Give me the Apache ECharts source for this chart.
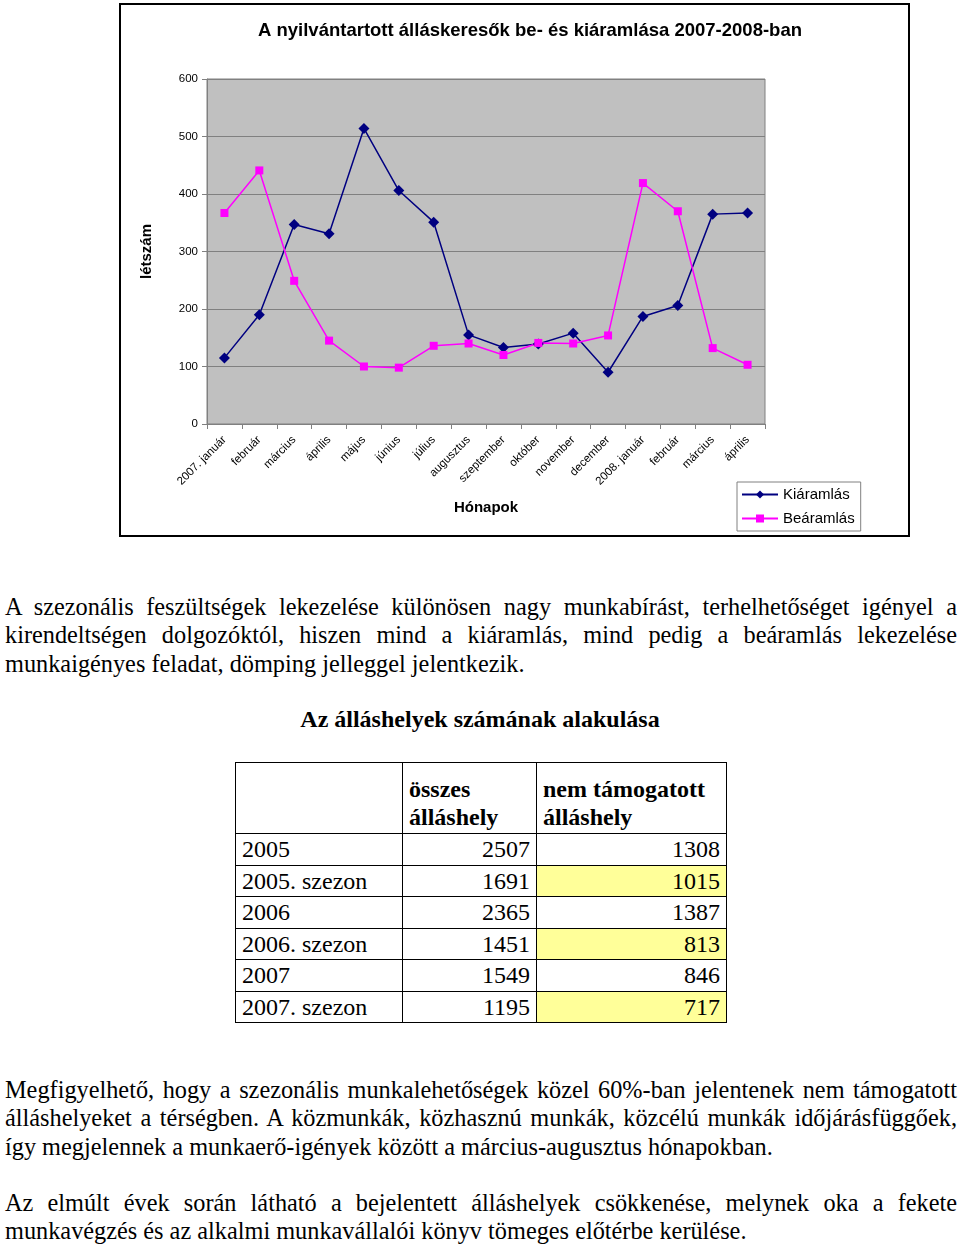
<!DOCTYPE html>
<html><head><meta charset="utf-8">
<script src="https://cdn.jsdelivr.net/npm/echarts@6/dist/echarts.min.js"></script>
<style>
body{margin:0;width:960px;height:1244px;background:#fff;position:relative;font-family:"Liberation Serif","Times New Roman",serif;}
#chart{position:absolute;left:119px;top:3px;width:787px;height:530px;border:2px solid #000;}
.p{position:absolute;left:5px;width:952px;font-size:24.3px;line-height:28.3px;color:#000;}
.p div{white-space:nowrap;text-align:justify;text-align-last:justify;}
.p div.last{text-align:left;text-align-last:left;}
#ttitle{position:absolute;left:0;width:960px;top:706px;text-align:center;font-weight:bold;font-size:24px;}
table{position:absolute;left:235px;top:762px;border-collapse:collapse;font-size:24px;}
td{border:1px solid #000;padding:0 6px;height:30.5px;line-height:26px;}
td.n{text-align:right;}
td.y{background:#ffff99;}
th{border:1px solid #000;font-weight:bold;text-align:left;vertical-align:bottom;padding:0 6px 2px 6px;height:68px;line-height:28px;}
</style></head><body>
<div id="chart"></div>
<div class="p" style="top:593px">
<div>A szezonális feszültségek lekezelése különösen nagy munkabírást, terhelhetőséget igényel a</div>
<div>kirendeltségen dolgozóktól, hiszen mind a kiáramlás, mind pedig a beáramlás lekezelése</div>
<div class="last">munkaigényes feladat, dömping jelleggel jelentkezik.</div>
</div>
<div id="ttitle">Az álláshelyek számának alakulása</div>
<table id="tbl"></table>
<div class="p" style="top:1076px">
<div>Megfigyelhető, hogy a szezonális munkalehetőségek közel 60%-ban jelentenek nem támogatott</div>
<div>álláshelyeket a térségben. A közmunkák, közhasznú munkák, közcélú munkák időjárásfüggőek,</div>
<div class="last">így megjelennek a munkaerő-igények között a március-augusztus hónapokban.</div>
</div>
<div class="p" style="top:1189px">
<div>Az elmúlt évek során látható a bejelentett álláshelyek csökkenése, melynek oka a fekete</div>
<div class="last">munkavégzés és az alkalmi munkavállalói könyv tömeges előtérbe kerülése.</div>
</div>
<script>
const months = ["2007. január","február","március","április","május","június","július","augusztus","szeptember","október","november","december","2008. január","február","március","április"];
const kiaramlas = [115,190,347,331,514,406,351,155,133,139,158,90,187,206,365,367];
const bearamlas = [367,441,249,145,100,98,136,140,120,141,140,154,419,370,132,103];
const yTicks = [0,100,200,300,400,500,600];

const tableRows = ["2005","2005. szezon","2006","2006. szezon","2007","2007. szezon"];
const osszes = [2507,1691,2365,1451,1549,1195];
const nemTamogatott = [1308,1015,1387,813,846,717];
const highlighted = [false,true,false,true,false,true];

// table
let html = '<tr><th style="width:154px"></th><th style="width:121px">összes<br>álláshely</th><th style="width:177px">nem támogatott<br>álláshely</th></tr>';
tableRows.forEach((r,i)=>{
  html += '<tr><td>'+r+'</td><td class="n">'+osszes[i]+'</td><td class="n'+(highlighted[i]?' y':'')+'">'+nemTamogatott[i]+'</td></tr>';
});
document.getElementById('tbl').innerHTML = html;

const chart = echarts.init(document.getElementById('chart'));
const font = 'Liberation Sans, Arial, sans-serif';
chart.setOption({
  animation:false,
  backgroundColor:'#fff',
  title:{text:'A nyilvántartott álláskeresők be- és kiáramlása 2007-2008-ban',left:132,top:11,
    textStyle:{fontFamily:font,fontSize:18.5,fontWeight:'bold',color:'#000'}},
  grid:{left:86,right:143,top:74,bottom:111,show:true,backgroundColor:'#c0c0c0',borderColor:'#808080',borderWidth:1},
  legend:{orient:'vertical',left:616,top:477,backgroundColor:'#fff',borderColor:'#808080',borderWidth:1,
    padding:[5,6,5,4],itemGap:9,itemWidth:36,itemHeight:10,
    textStyle:{fontFamily:font,fontSize:15,color:'#000'},
    data:['Kiáramlás','Beáramlás']},
  xAxis:{type:'category',data:months,boundaryGap:true,
    name:'Hónapok',nameLocation:'middle',nameGap:76,
    nameTextStyle:{fontFamily:font,fontSize:15,fontWeight:'bold',color:'#000'},
    axisLine:{lineStyle:{color:'#808080'}},
    axisTick:{show:true,alignWithLabel:false,lineStyle:{color:'#808080'}},
    axisLabel:{rotate:45,interval:0,fontFamily:font,fontSize:11.5,color:'#000',margin:14}},
  yAxis:{type:'value',min:yTicks[0],max:yTicks[yTicks.length-1],interval:100,
    name:'létszám',nameLocation:'middle',nameGap:53,nameRotate:90,
    nameTextStyle:{fontFamily:font,fontSize:15,fontWeight:'bold',color:'#000'},
    axisLine:{show:true,lineStyle:{color:'#808080'}},
    axisTick:{show:true,lineStyle:{color:'#808080'}},
    splitLine:{lineStyle:{color:'#808080',width:1}},
    axisLabel:{fontFamily:font,fontSize:11.5,color:'#000',margin:9}},
  series:[
    {name:'Kiáramlás',type:'line',data:kiaramlas,symbol:'diamond',symbolSize:11,
      itemStyle:{color:'#000080'},lineStyle:{color:'#000080',width:1.5}},
    {name:'Beáramlás',type:'line',data:bearamlas,symbol:'rect',symbolSize:8,
      itemStyle:{color:'#ff00ff'},lineStyle:{color:'#ff00ff',width:1.5}}
  ]
});
</script>
</body></html>
